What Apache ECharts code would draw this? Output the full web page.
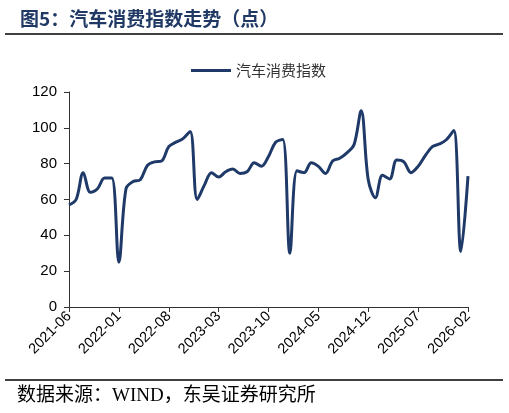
<!DOCTYPE html>
<html><head><meta charset="utf-8">
<script src="https://cdn.jsdelivr.net/npm/echarts@6/dist/echarts.min.js"></script>
<style>html,body{margin:0;padding:0;background:#fff}#c{width:509px;height:413px}</style>
</head><body><div id="c"></div>
<script>
var seriesName = '汽车消费指数';
var startYear = 2021, startMonth = 6, monthCount = 57;
var values = [57,60,75,64,66,72,72,25,66,70,71,79,81,81.5,89.5,92,94,98,
  60,68,75,72.5,75.5,77,74.5,75.5,80.5,78.5,84,92,93.5,30,
  76,75,80.5,78.5,74.5,81.5,83,86,90.5,109.5,71,61,73.5,71.5,82,81,75,78.5,84.5,89.5,91,93.5,98.5,31,73];
var yTicks = [0,20,40,60,80,100,120];
var categories = [];
for (var k = 0; k < monthCount; k++) {
  var m = startMonth - 1 + k;
  var yy = startYear + Math.floor(m / 12), mm = m % 12 + 1;
  categories.push(yy + '-' + (mm < 10 ? '0' + mm : mm));
}
var chart = echarts.init(document.getElementById('c'));
chart.setOption({
  animation: false,
  title: { text: '图5：汽车消费指数走势（点）', left: 15, top: 4,
    textStyle: { color: '#1F3864', fontSize: 19, fontWeight: 'bold', fontFamily: 'Noto Sans CJK SC' } },
  legend: { top: 58, left: 186, itemWidth: 40, itemHeight: 3, itemGap: 5, icon: 'rect',
    textStyle: { fontSize: 15, color: '#333', fontFamily: 'Noto Sans CJK SC' },
    data: [seriesName] },
  grid: { left: 69, right: 41, top: 92, bottom: 106, containLabel: false },
  xAxis: { type: 'category', data: categories, boundaryGap: false,
    axisLine: { lineStyle: { color: '#333', width: 1 } },
    axisTick: { interval: 6, length: 5, lineStyle: { color: '#333' } },
    axisLabel: { interval: 6, rotate: 45, fontSize: 14.5, color: '#000', fontFamily: 'Arial, Liberation Sans', margin: 7 } },
  yAxis: { type: 'value', min: yTicks[0], max: yTicks[yTicks.length-1], interval: 20,
    splitLine: { show: false },
    axisLine: { show: true, lineStyle: { color: '#333', width: 1 } },
    axisTick: { show: true, length: 5, lineStyle: { color: '#333' } },
    axisLabel: { fontSize: 15, color: '#000', fontFamily: 'Arial, Liberation Sans', margin: 12 } },
  series: [{ name: seriesName, type: 'line', data: values, smooth: 0.35, symbol: 'none',
    lineStyle: { color: '#1F3A68', width: 3 }, itemStyle: { color: '#1F3A68' } }],
  graphic: [
    { type: 'line', shape: { x1: 5, y1: 34, x2: 503, y2: 34 }, style: { stroke: '#000', lineWidth: 1.5 } },
    { type: 'line', shape: { x1: 5, y1: 380, x2: 503, y2: 380 }, style: { stroke: '#000', lineWidth: 1.5 } },
    { type: 'text', left: 17, top: 387, style: { text: '数据来源：WIND，东吴证券研究所', fontSize: 19,
      fill: '#000', fontFamily: 'Liberation Serif, Noto Sans CJK SC' } }
  ]
});
</script></body></html>
